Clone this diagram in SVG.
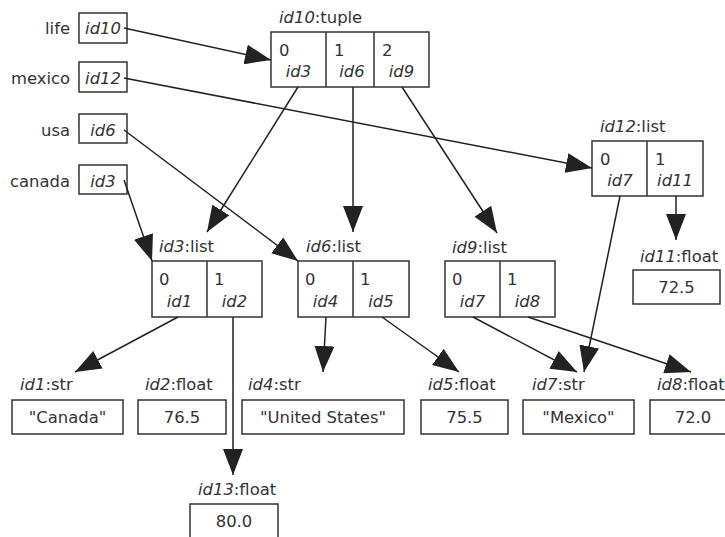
<svg xmlns="http://www.w3.org/2000/svg" width="725" height="537" viewBox="0 0 725 537">
<defs>
<style>
text{font-family:"DejaVu Sans","Liberation Sans",sans-serif;font-size:16.4px;fill:#333}
.i{font-style:italic}
.m{text-anchor:middle}
.r{text-anchor:end}
rect,.d{fill:#fff;stroke:#333;stroke-width:1.5}
.d{fill:none}
#edges line{stroke:#222;stroke-width:1.5;marker-end:url(#ah)}
</style>
<marker id="ah" markerUnits="userSpaceOnUse" markerWidth="26" markerHeight="20" refX="26" refY="10" orient="auto" viewBox="0 0 26 20">
<path d="M0,0 L26,10 L0,20 z" fill="#222"/>
</marker>
</defs>
<rect x="0" y="0" width="725" height="537" style="fill:#fff;stroke:none"/>

<g id="var-life"><text class="r" x="70" y="34">life</text><rect x="79" y="13" width="48" height="30"/><text class="i m" x="103" y="34">id10</text></g>
<g id="var-mexico"><text class="r" x="70" y="84">mexico</text><rect x="79" y="62" width="48" height="30"/><text class="i m" x="103" y="84">id12</text></g>
<g id="var-usa"><text class="r" x="70" y="136">usa</text><rect x="79" y="114" width="48" height="29"/><text class="i m" x="103" y="136">id6</text></g>
<g id="var-canada"><text class="r" x="70" y="187">canada</text><rect x="79" y="165" width="48" height="29"/><text class="i m" x="103" y="187">id3</text></g>

<g id="id10">
<text x="279" y="23"><tspan class="i">id10</tspan>:tuple</text>
<rect x="271" y="32" width="158" height="55"/>
<line class="d" x1="326" y1="32" x2="326" y2="87"/><line class="d" x1="374" y1="32" x2="374" y2="87"/>
<text x="279" y="56">0</text><text class="i m" x="298.5" y="77">id3</text>
<text x="334" y="56">1</text><text class="i m" x="352" y="77">id6</text>
<text x="382" y="56">2</text><text class="i m" x="401.5" y="77">id9</text>
</g>

<g id="id12">
<text x="600" y="132"><tspan class="i">id12</tspan>:list</text>
<rect x="592" y="141" width="111" height="55"/>
<line class="d" x1="647" y1="141" x2="647" y2="196"/>
<text x="600" y="165">0</text><text class="i m" x="620" y="186">id7</text>
<text x="655" y="165">1</text><text class="i m" x="675" y="186">id11</text>
</g>

<g id="id3">
<text x="159" y="252"><tspan class="i">id3</tspan>:list</text>
<rect x="152" y="261" width="110" height="56"/>
<line class="d" x1="207" y1="261" x2="207" y2="317"/>
<text x="159" y="285">0</text><text class="i m" x="179.5" y="307">id1</text>
<text x="214" y="285">1</text><text class="i m" x="234.5" y="307">id2</text>
</g>

<g id="id6">
<text x="306" y="252"><tspan class="i">id6</tspan>:list</text>
<rect x="298" y="261" width="111" height="56"/>
<line class="d" x1="353" y1="261" x2="353" y2="317"/>
<text x="305" y="285">0</text><text class="i m" x="325.5" y="307">id4</text>
<text x="360" y="285">1</text><text class="i m" x="381" y="307">id5</text>
</g>

<g id="id9">
<text x="452" y="253"><tspan class="i">id9</tspan>:list</text>
<rect x="445" y="261" width="110" height="56"/>
<line class="d" x1="500" y1="261" x2="500" y2="317"/>
<text x="452" y="285">0</text><text class="i m" x="472.5" y="307">id7</text>
<text x="507" y="285">1</text><text class="i m" x="527.5" y="307">id8</text>
</g>

<g id="id11">
<text x="640" y="262"><tspan class="i">id11</tspan>:float</text>
<rect x="633" y="270" width="87" height="34"/>
<text class="m" x="676.5" y="293">72.5</text>
</g>

<g id="id1">
<text x="20" y="390"><tspan class="i">id1</tspan>:str</text>
<rect x="12" y="400" width="111" height="34"/>
<text class="m" x="67.5" y="423">"Canada"</text>
</g>
<g id="id2">
<text x="145" y="390"><tspan class="i">id2</tspan>:float</text>
<rect x="138" y="400" width="88" height="34"/>
<text class="m" x="182" y="423">76.5</text>
</g>
<g id="id4">
<text x="248" y="390"><tspan class="i">id4</tspan>:str</text>
<rect x="242" y="400" width="162" height="34"/>
<text class="m" x="323" y="423">"United States"</text>
</g>
<g id="id5">
<text x="428" y="390"><tspan class="i">id5</tspan>:float</text>
<rect x="421" y="400" width="87" height="34"/>
<text class="m" x="464.5" y="423">75.5</text>
</g>
<g id="id7">
<text x="532" y="390"><tspan class="i">id7</tspan>:str</text>
<rect x="523" y="400" width="111" height="34"/>
<text class="m" x="578.5" y="423">"Mexico"</text>
</g>
<g id="id8">
<text x="657" y="390"><tspan class="i">id8</tspan>:float</text>
<rect x="650" y="400" width="87" height="34"/>
<text class="m" x="693" y="423">72.0</text>
</g>
<g id="id13">
<text x="198" y="495"><tspan class="i">id13</tspan>:float</text>
<rect x="190" y="504" width="88" height="34"/>
<text class="m" x="234" y="527">80.0</text>
</g>

<g id="edges">
<line x1="124" y1="28" x2="271" y2="60"/>
<line x1="124" y1="78" x2="592" y2="168"/>
<line x1="124" y1="130" x2="298" y2="261"/>
<line x1="124" y1="180" x2="152" y2="261"/>
<line x1="298" y1="87" x2="207" y2="232"/>
<line x1="353" y1="87" x2="353" y2="232"/>
<line x1="402" y1="87" x2="497" y2="233"/>
<line x1="620" y1="196" x2="584" y2="372"/>
<line x1="676" y1="196" x2="676" y2="240"/>
<line x1="178" y1="317" x2="75" y2="372"/>
<line x1="233" y1="317" x2="233" y2="475"/>
<line x1="326" y1="317" x2="323" y2="372"/>
<line x1="382" y1="317" x2="459" y2="372"/>
<line x1="473" y1="317" x2="577" y2="372"/>
<line x1="528" y1="317" x2="691" y2="372"/>
</g>
</svg>
